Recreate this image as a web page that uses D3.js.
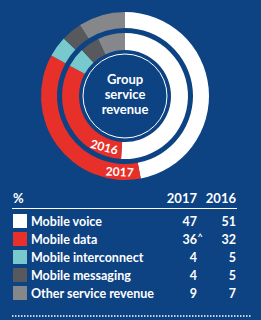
<!DOCTYPE html>
<html>
<head>
<meta charset="utf-8">
<script src="https://cdn.jsdelivr.net/npm/d3@7"></script>
<style>
  body { margin: 0; background: #0d4283; }
  svg { display: block; }
  text { font-family: Lato, "Open Sans", sans-serif; font-weight: 700; fill: #fff; }
</style>
</head>
<body>
<div class="chartArea"></div>
<script>
let width = 261,
    height = 320

// data
const categories = ['Mobile voice', 'Mobile data', 'Mobile interconnect', 'Mobile messaging', 'Other service revenue']
const values2017 = [47, 36, 4, 4, 9]
const values2016 = [51, 32, 5, 5, 7]
const notes2017 = ['', '^', '', '', '']
const years = ['2017', '2016']
const colours = ['#ffffff', '#e8302a', '#78c9cd', '#58595c', '#86878a']

const bg = '#0d4283'
const cx = 125, cy = 96

const svg = d3.select('.chartArea')
    .append('svg')
    .attr('width', width)
    .attr('height', height)

svg.append('rect')
    .attr('width', width)
    .attr('height', height)
    .attr('fill', bg)

const pie = d3.pie().sort(null).value(d => d)

const ring = svg.append('g').attr('transform', `translate(${cx},${cy})`)

// outer ring = 2017, inner ring = 2016
const rings = [
  {vals: values2017, inner: 68, outer: 84},
  {vals: values2016, inner: 46, outer: 63}
]

rings.forEach(r => {
  const arc = d3.arc().innerRadius(r.inner).outerRadius(r.outer)
  ring.append('g')
      .selectAll('path')
      .data(pie(r.vals))
      .enter()
      .append('path')
      .attr('d', arc)
      .attr('fill', (d, i) => colours[i])
})

// centre circle
ring.append('circle')
    .attr('r', 42)
    .attr('fill', 'none')
    .attr('stroke', '#fff')
    .attr('stroke-width', 1)

ring.selectAll('.title')
    .data(['Group', 'service', 'revenue'])
    .enter()
    .append('text')
    .attr('class', 'title')
    .attr('text-anchor', 'middle')
    .attr('y', (d, i) => -17 + i * 15)
    .attr('dy', '0.35em')
    .style('font-size', '13px')
    .text(d => d)

// year labels on the red segments
const yearLabels = [
  {text: years[0], r: 76, angle: 184, rot: 3},
  {text: years[1], r: 55, angle: 202, rot: 14}
]
yearLabels.forEach(l => {
  const a = l.angle * Math.PI / 180
  const x = Math.sin(a) * l.r, y = -Math.cos(a) * l.r
  ring.append('text')
      .attr('text-anchor', 'middle')
      .attr('dy', '0.36em')
      .attr('transform', `translate(${x},${y}) rotate(${l.rot})`)
      .style('font-size', '12px')
      .text(l.text)
})

// table
const x2017 = 197, x2016 = 236
const header = svg.append('g')
header.append('text').attr('x', 13).attr('y', 203).style('font-size', '13px').text('%')
header.append('text').attr('x', x2017).attr('y', 203).attr('text-anchor', 'end').style('font-size', '13px').text(years[0])
header.append('text').attr('x', x2016).attr('y', 203).attr('text-anchor', 'end').style('font-size', '13px').text(years[1])
header.append('line')
    .attr('x1', 12).attr('x2', 237)
    .attr('y1', 208.5).attr('y2', 208.5)
    .attr('stroke', '#fff').attr('stroke-width', 1.2)

const rowY = d3.scaleBand()
    .domain(categories)
    .range([212, 302])

const rows = svg.selectAll('.row')
    .data(categories)
    .enter()
    .append('g')
    .attr('class', 'row')
    .attr('transform', d => `translate(0, ${rowY(d) + rowY.bandwidth() / 2})`)

rows.append('rect')
    .attr('x', 13).attr('y', -7)
    .attr('width', 14).attr('height', 14)
    .attr('fill', (d, i) => colours[i])

rows.append('text')
    .attr('x', 31)
    .attr('dy', '0.36em')
    .style('font-size', '12.5px')
    .text(d => d)

rows.append('text')
    .attr('x', x2017)
    .attr('text-anchor', 'end')
    .attr('dy', '0.36em')
    .style('font-size', '12.5px')
    .text((d, i) => values2017[i])

rows.append('text')
    .attr('x', x2017 + 0.5)
    .attr('dy', '0.1em')
    .style('font-size', '9px')
    .text((d, i) => notes2017[i])

rows.append('text')
    .attr('x', x2016)
    .attr('text-anchor', 'end')
    .attr('dy', '0.36em')
    .style('font-size', '12.5px')
    .text((d, i) => values2016[i])

// dotted rule at the bottom
svg.append('line')
    .attr('x1', 12).attr('x2', 251)
    .attr('y1', 316).attr('y2', 316)
    .attr('stroke', '#fff')
    .attr('stroke-width', 1.5)
    .attr('stroke-dasharray', '1.5 1.5')
</script>
</body>
</html>
